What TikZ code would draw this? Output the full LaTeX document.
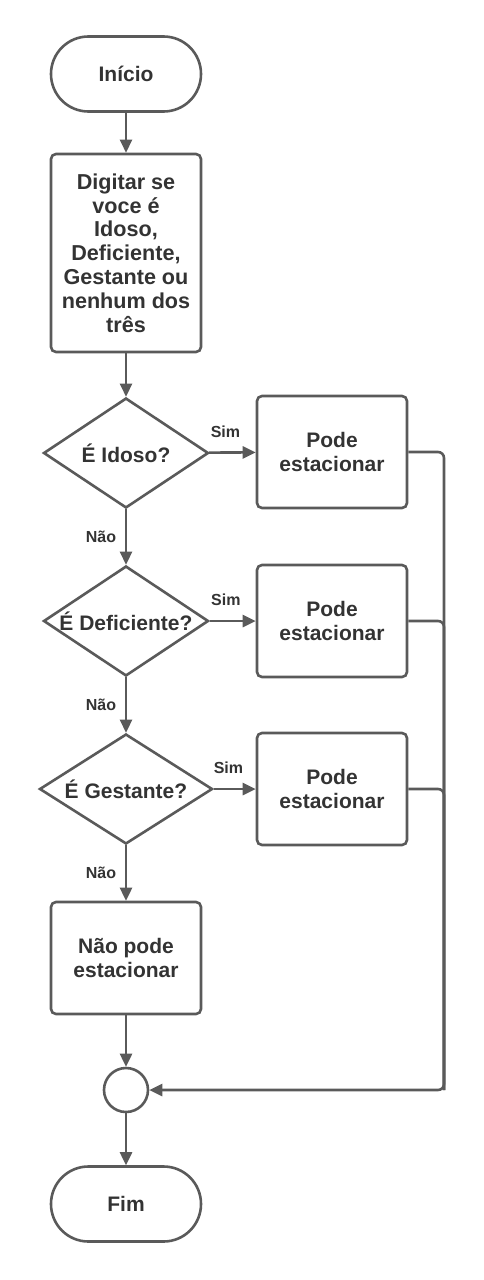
\documentclass[tikz,border=0pt]{standalone}
\usepackage{fontspec}
\setmainfont{Liberation Sans}
\usepackage{tikz}
\usetikzlibrary{shapes.geometric, arrows.meta, positioning}

\definecolor{linegray}{HTML}{5A5A5A}
\definecolor{textgray}{HTML}{333333}

\begin{document}
\begin{tikzpicture}[x=0.5pt,y=-0.5pt,
  txt/.style={text=textgray, font=\bfseries\fontsize{10.5}{12}\selectfont},
  terminal/.style={txt, draw=linegray, line width=1.3pt, rounded corners=18.7pt,
    minimum width=75pt, minimum height=37.5pt, inner sep=0pt},
  stepbox/.style={txt, draw=linegray, line width=1.3pt, rounded corners=2.5pt,
    minimum width=75pt, minimum height=56pt, align=center, inner sep=2pt},
  decision/.style={txt, diamond, aspect=1.5, draw=linegray, line width=1.3pt,
    minimum width=82.5pt, minimum height=55pt, inner sep=0pt},
  joint/.style={circle, draw=linegray, line width=1.3pt, minimum size=22pt, inner sep=0pt},
  flow/.style={draw=linegray, line width=1.3pt, -{Triangle[length=6.5pt,width=6pt]}},
  bus/.style={draw=linegray, line width=1.3pt, rounded corners=3pt},
  lbl/.style={text=textgray, font=\bfseries\fontsize{8}{9.6}\selectfont}]
\useasboundingbox (0,0) rectangle (483,1280);

\node[terminal] (start) at (126,74) {Início};
\node[stepbox, minimum height=99pt, font=\bfseries\fontsize{10.8}{11.9}\selectfont] (input) at (126,253)
  {Digitar se\\voce é\\Idoso,\\Deficiente,\\Gestante ou\\nenhum dos\\três};
\node[decision] (idoso) at (126,453) {É Idoso?};
\node[decision] (defic) at (126,621) {É Deficiente?};
\node[decision, minimum width=86.5pt] (gest) at (126,789) {É Gestante?};
\node[stepbox] (pode1) at (332,452) {Pode\\estacionar};
\node[stepbox] (pode2) at (332,621) {Pode\\estacionar};
\node[stepbox] (pode3) at (332,789) {Pode\\estacionar};
\node[stepbox] (naopode) at (126,958) {Não pode\\estacionar};
\node[joint] (join) at (126,1090) {};
\node[terminal] (fim) at (126,1204) {Fim};
\coordinate (busend) at (444,1090);

% main column
\draw[flow] (start) -- (input);
\draw[flow] (input) -- (idoso);
\draw[flow] (idoso) -- node[lbl, left=1pt] {Não} (defic);
\draw[flow] (defic) -- node[lbl, left=1pt] {Não} (gest);
\draw[flow] (gest) -- node[lbl, left=1pt] {Não} (naopode);
\draw[flow] (naopode) -- (join);
\draw[flow] (join) -- (fim);

% yes branches
\draw[flow] (idoso) -- node[lbl, above=3.5pt, pos=0.35] {Sim} (pode1);
\draw[flow] (defic) -- node[lbl, above=3.5pt, pos=0.35] {Sim} (pode2);
\draw[flow] (gest) -- node[lbl, above=3.5pt, pos=0.35] {Sim} (pode3);

% back to the join
\draw[bus] (pode2.east) -| (busend);
\draw[bus] (pode3.east) -| (busend);
\draw[flow, rounded corners=3pt] (pode1.east) -| (busend) -- (join);
\end{tikzpicture}
\end{document}
